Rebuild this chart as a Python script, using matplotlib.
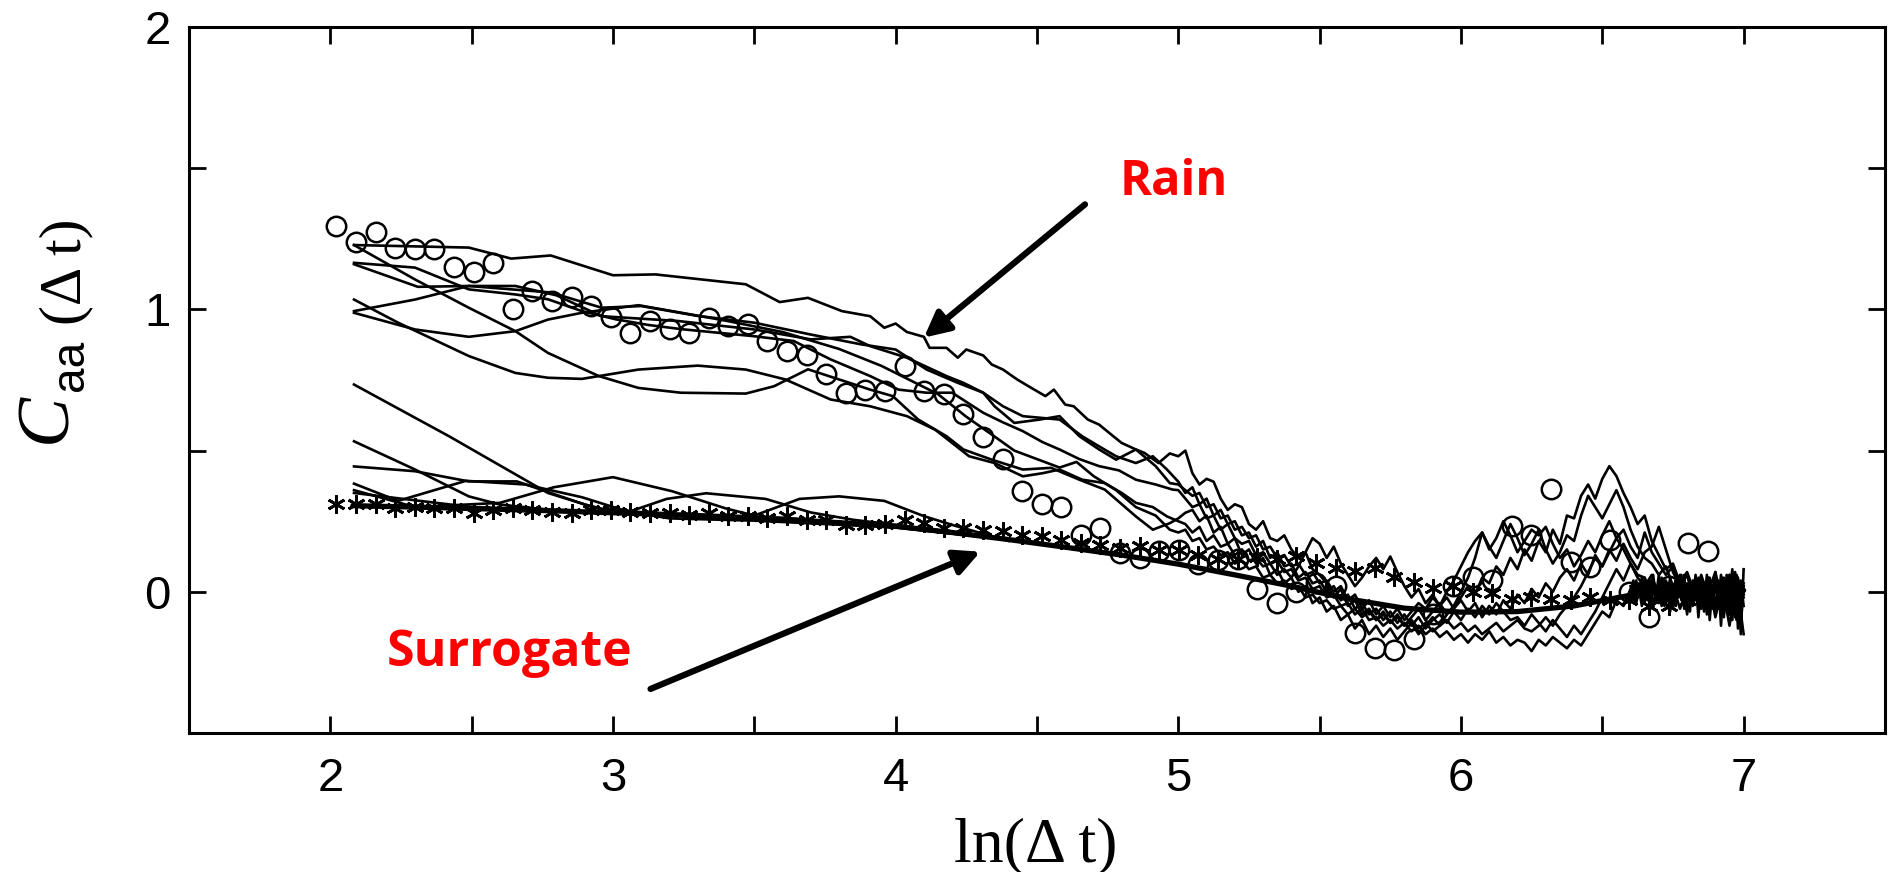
import numpy as np
import matplotlib
matplotlib.use("Agg")
import matplotlib.pyplot as plt

# ---- averaged rain curve (circles) and surrogate curve (stars), same lag grid
lag_x = 2.022 + 0.0693 * np.arange(71)
rain_avg = [1.295, 1.240, 1.275, 1.216, 1.213, 1.213, 1.151, 1.132, 1.165, 1.002,
            1.065, 1.029, 1.045, 1.012, 0.974, 0.917, 0.960, 0.930, 0.917, 0.970,
            0.943, 0.947, 0.888, 0.852, 0.837, 0.773, 0.705, 0.716, 0.710, 0.801,
            0.710, 0.702, 0.631, 0.548, 0.470, 0.356, 0.312, 0.301, 0.202, 0.226,
            0.137, 0.119, 0.143, 0.149, 0.100, 0.113, 0.116, 0.010, -0.038, 0.001,
            0.030, 0.020, -0.146, -0.200, -0.206, -0.168, -0.080, 0.019, 0.054, 0.043,
            0.232, 0.202, 0.364, 0.107, 0.089, 0.184, 0.000, -0.088, 0.020, 0.173,
            0.146]
surr_avg = [0.312, 0.312, 0.312, 0.296, 0.300, 0.296, 0.296, 0.280, 0.290, 0.296,
            0.288, 0.284, 0.280, 0.290, 0.288, 0.284, 0.278, 0.278, 0.273, 0.279,
            0.267, 0.267, 0.261, 0.267, 0.255, 0.255, 0.238, 0.238, 0.241, 0.255,
            0.243, 0.226, 0.226, 0.220, 0.214, 0.202, 0.196, 0.184, 0.173, 0.167,
            0.155, 0.161, 0.149, 0.149, 0.131, 0.116, 0.116, 0.124, 0.116, 0.128,
            0.102, 0.084, 0.072, 0.084, 0.054, 0.033, 0.013, 0.019, -0.002, -0.005,
            -0.026, -0.017, -0.026, -0.028, -0.017, -0.028, -0.028, -0.052, -0.052, -0.028,
            -0.010]

# ---- single rain events: first part (ln dt < 5) on their own x values
r1_x = [2.084, 2.49, 2.64, 2.78, 3.0, 3.15, 3.47, 3.59, 3.69, 3.81, 3.91, 3.96, 4.0,
        4.04, 4.1, 4.12, 4.18, 4.22, 4.25, 4.31, 4.34, 4.38, 4.43, 4.47, 4.53, 4.56,
        4.6, 4.63, 4.68, 4.72, 4.77, 4.8, 4.85, 4.88, 4.93, 4.97]
r1_y = [1.228, 1.219, 1.18, 1.191, 1.121, 1.124, 1.089, 1.026, 1.041, 0.994, 0.976,
        0.935, 0.95, 0.92, 0.903, 0.864, 0.864, 0.829, 0.858, 0.837, 0.805, 0.787,
        0.752, 0.728, 0.693, 0.716, 0.663, 0.657, 0.61, 0.592, 0.551, 0.527, 0.504,
        0.492, 0.456, 0.49]
r2_x = [2.084, 2.30, 2.49, 2.655, 2.77, 2.95, 3.09, 3.24, 3.47, 3.57, 3.69, 3.80, 3.91,
        3.99, 4.08, 4.18, 4.24, 4.34, 4.45, 4.55, 4.65, 4.74, 4.85, 4.91, 4.97]
r2_y = [1.228, 1.106, 1.006, 0.923, 0.846, 0.764, 0.722, 0.705, 0.702, 0.728, 0.788,
        0.752, 0.716, 0.693, 0.61, 0.551, 0.504, 0.468, 0.433, 0.439, 0.397, 0.362,
        0.267, 0.220, 0.243]
r3_x = [2.084, 2.24, 2.49, 2.655, 2.77, 2.89, 3.09, 3.30, 3.47, 3.61, 3.77, 3.91, 4.04,
        4.14, 4.26, 4.35, 4.45, 4.52, 4.58, 4.66, 4.74, 4.80, 4.85, 4.91, 4.96]
r3_y = [1.035, 0.953, 0.835, 0.775, 0.758, 0.754, 0.787, 0.801, 0.787, 0.752, 0.681,
        0.657, 0.622, 0.574, 0.48, 0.456, 0.409, 0.42, 0.433, 0.397, 0.385, 0.35, 0.315,
        0.30, 0.267]
r4_x = [2.084, 2.30, 2.49, 2.655, 2.77, 2.89, 3.01, 3.125, 3.243, 3.50, 3.64, 3.77,
        3.91, 4.01, 4.11, 4.20, 4.31, 4.38, 4.45, 4.52, 4.58, 4.65, 4.72, 4.79, 4.85,
        4.92, 4.98]
r4_y = [1.165, 1.148, 1.071, 1.053, 1.036, 0.994, 0.965, 0.945, 0.93, 0.905, 0.888,
        0.823, 0.764, 0.716, 0.705, 0.705, 0.634, 0.60, 0.569, 0.53, 0.504, 0.47, 0.445,
        0.43, 0.397, 0.38, 0.362]
r5_x = [2.084, 2.31, 2.49, 2.78, 2.96, 3.10, 3.30, 3.50, 3.70, 3.88, 4.00, 4.11, 4.22,
        4.31, 4.38, 4.45, 4.58, 4.66, 4.72, 4.78, 4.85, 4.91, 4.96]
r5_y = [1.16, 1.08, 1.083, 1.06, 1.006, 1.012, 0.977, 0.953, 0.911, 0.876, 0.858, 0.787,
        0.74, 0.705, 0.657, 0.622, 0.61, 0.551, 0.515, 0.48, 0.456, 0.48, 0.433]
r6_x = [2.084, 2.30, 2.49, 2.655, 2.80, 2.96, 3.23, 3.50, 3.70, 3.84, 3.91, 4.04, 4.18,
        4.24, 4.31, 4.35, 4.42, 4.51, 4.58, 4.65, 4.72, 4.78, 4.85, 4.92, 4.97]
r6_y = [0.994, 1.035, 1.083, 1.083, 1.05, 0.976, 0.959, 0.929, 0.894, 0.903, 0.87,
        0.829, 0.764, 0.74, 0.705, 0.657, 0.598, 0.61, 0.622, 0.551, 0.504, 0.468, 0.504,
        0.445, 0.385]
r7_x = [2.084, 2.30, 2.49, 2.655, 2.77, 2.89, 3.09, 3.243, 3.40, 3.60, 3.80, 3.95, 4.05,
        4.15, 4.25, 4.35, 4.42, 4.50, 4.58, 4.64, 4.70, 4.78, 4.85, 4.92, 4.97]
r7_y = [0.988, 0.929, 0.903, 0.923, 0.964, 0.988, 1.015, 0.988, 0.96, 0.92, 0.86, 0.80,
        0.75, 0.70, 0.62, 0.55, 0.50, 0.47, 0.44, 0.46, 0.41, 0.36, 0.30, 0.27, 0.22]

# ---- noisy part of the same events, ln dt = 5.0 ... 7.0 in steps of 0.025
tail_x = np.round(np.arange(5.0, 7.0001, 0.025), 3)
r1_tail = [0.48, 0.50, 0.42, 0.38, 0.40, 0.39, 0.33, 0.29, 0.31, 0.30, 0.24, 0.22, 0.25,
           0.19, 0.18, 0.20, 0.15, 0.12, 0.14, 0.08, 0.06,
           0.03, -0.02, 0.01, -0.05, -0.03, -0.08, -0.06, -0.10, -0.07, -0.11,
           -0.08, -0.12, -0.09, -0.06, -0.10, -0.07, -0.04, -0.08, -0.05, -0.02,
           0.02, -0.01, 0.05, 0.03, 0.09, 0.06, 0.12, 0.08, 0.15, 0.11,
           0.18, 0.14, 0.22, 0.17, 0.27, 0.26, 0.34, 0.38, 0.33, 0.40,
           0.445, 0.41, 0.35, 0.30, 0.24, 0.27, 0.18, 0.13, 0.08, 0.10,
           0.03, 0.06, -0.02, 0.05, 0.00, 0.07, -0.04, 0.06, -0.03, 0.02]
r2_tail = [0.26, 0.28, 0.29, 0.25, 0.27, 0.21, 0.23, 0.17, 0.19, 0.13, 0.15, 0.10, 0.12,
           0.06, 0.08, 0.03, 0.05, 0.00, 0.02, -0.04, -0.02,
           -0.07, -0.05, -0.10, -0.08, -0.13, -0.10, -0.15, -0.12, -0.16, -0.13,
           -0.17, -0.14, -0.11, -0.15, -0.12, -0.09, -0.12, -0.08, -0.05, 0.00,
           0.05, 0.12, 0.21, 0.16, 0.12, 0.18, 0.24, 0.19, 0.13, 0.17,
           0.22, 0.15, 0.10, 0.14, 0.20, 0.18, 0.27, 0.34, 0.30, 0.26,
           0.31, 0.36, 0.30, 0.22, 0.16, 0.12, 0.10, 0.06, 0.09, 0.02,
           0.06, -0.03, 0.04, -0.06, 0.02, -0.04, 0.05, -0.08, 0.03, -0.01]
r3_tail = [0.25, 0.24, 0.21, 0.23, 0.18, 0.20, 0.16, 0.17, 0.13, 0.15, 0.11, 0.12, 0.09,
           0.10, 0.06, 0.08, 0.05, 0.09, 0.14, 0.19, 0.17,
           0.12, 0.16, 0.10, 0.06, 0.02, 0.05, 0.09, 0.12, 0.08, 0.125,
           0.07, 0.02, -0.02, 0.01, -0.04, -0.01, -0.05, -0.02, -0.06, -0.03,
           -0.07, -0.04, -0.09, -0.05, -0.08, -0.03, -0.06, -0.01, -0.04, 0.01,
           -0.02, 0.03, 0.00, 0.05, 0.08, 0.04, 0.10, 0.06, 0.13, 0.09,
           0.15, 0.11, 0.17, 0.12, 0.08, 0.14, 0.16, 0.23, 0.15, 0.07,
           0.02, 0.06, -0.03, 0.03, -0.07, 0.01, -0.05, 0.04, -0.10, 0.00]
r4_tail = [0.36, 0.33, 0.30, 0.31, 0.26, 0.27, 0.22, 0.24, 0.19, 0.17, 0.18, 0.13, 0.14,
           0.10, 0.11, 0.07, 0.08, 0.04, 0.05, 0.01, 0.02,
           -0.02, -0.01, -0.05, -0.04, -0.08, -0.06, -0.10, -0.09, -0.12, -0.10,
           -0.13, -0.11, -0.14, -0.12, -0.15, -0.13, -0.16, -0.14, -0.17, -0.15,
           -0.18, -0.15, -0.17, -0.14, -0.18, -0.16, -0.19, -0.17, -0.18, -0.21,
           -0.17, -0.19, -0.16, -0.18, -0.20, -0.17, -0.19, -0.15, -0.11, -0.07,
           -0.09, -0.03, -0.05, 0.01, -0.02, 0.03, 0.04, -0.03, 0.02, -0.05,
           0.01, -0.07, 0.03, -0.04, 0.05, -0.09, 0.02, -0.12, 0.04, -0.15]
r5_tail = [0.39, 0.35, 0.37, 0.31, 0.33, 0.27, 0.29, 0.24, 0.25, 0.20, 0.21, 0.16, 0.18,
           0.12, 0.14, 0.09, 0.10, 0.05, 0.07, 0.03, 0.04,
           0.00, 0.02, -0.03, -0.01, -0.06, -0.04, -0.08, -0.06, -0.10, -0.07,
           -0.11, -0.08, -0.12, -0.09, -0.13, -0.10, -0.08, -0.11, -0.07, -0.10,
           -0.06, -0.09, -0.05, -0.08, -0.04, -0.07, -0.10, -0.09, -0.12, -0.08,
           -0.11, -0.14, -0.10, -0.13, -0.16, -0.12, -0.15, -0.11, -0.07, -0.02,
           0.03, 0.08, 0.04, 0.10, 0.06, 0.05, -0.01, 0.03, -0.04, 0.02,
           -0.06, 0.01, -0.03, 0.06, -0.02, 0.04, -0.07, 0.03, -0.05, 0.01]
r6_tail = [0.38, 0.36, 0.34, 0.35, 0.30, 0.31, 0.26, 0.27, 0.22, 0.23, 0.19, 0.20, 0.15,
           0.16, 0.12, 0.13, 0.09, 0.10, 0.06, 0.07, 0.03,
           0.04, 0.00, 0.02, -0.03, -0.01, -0.06, -0.03, -0.08, -0.05, -0.09,
           -0.06, -0.10, -0.07, -0.04, -0.06, -0.02, -0.05, 0.00, 0.04, 0.09,
           0.14, 0.18, 0.21, 0.15, 0.19, 0.25, 0.20, 0.14, 0.18, 0.22,
           0.20, 0.23, 0.17, 0.12, 0.15, 0.09, 0.13, 0.18, 0.14, 0.20,
           0.25, 0.19, 0.22, 0.16, 0.12, 0.21, 0.14, 0.10, 0.06, 0.09,
           0.03, 0.07, 0.00, 0.05, -0.03, 0.04, -0.02, 0.06, -0.04, 0.03]
r7_tail = [0.21, 0.22, 0.18, 0.19, 0.15, 0.16, 0.13, 0.14, 0.10, 0.11, 0.08, 0.09, 0.05,
           0.06, 0.03, 0.04, 0.01, 0.02, -0.02, -0.01, -0.04,
           -0.03, -0.06, -0.05, -0.08, -0.06, -0.09, -0.07, -0.10, -0.08, -0.11,
           -0.09, -0.12, -0.10, -0.13, -0.11, -0.14, -0.12, -0.10, -0.13, -0.11,
           -0.14, -0.12, -0.15, -0.13, -0.11, -0.14, -0.12, -0.10, -0.13, -0.14,
           -0.12, -0.09, -0.12, -0.08, -0.05, -0.02, 0.02, 0.07, 0.12, 0.09,
           0.14, 0.19, 0.15, 0.10, 0.05, 0.02, 0.06, -0.02, 0.04, -0.04,
           0.02, -0.06, 0.01, -0.03, 0.05, -0.05, 0.03, -0.08, 0.06, -0.02]

# ---- surrogate realisations at the largest lags, ln dt = 6.60 ... 7.00 step 0.01
end_x = np.round(np.arange(6.60, 7.0001, 0.01), 2)
s1_end = [0.02, -0.03, 0.04, -0.01, 0.05, -0.04, 0.03, -0.02, 0.06, -0.03, 0.02,
          -0.05, 0.04, -0.02, 0.05, -0.06, 0.03, -0.01, 0.06, -0.04, 0.02, -0.07,
          0.04, -0.03, 0.05, -0.05, 0.02, -0.08, 0.05, -0.02, 0.07, -0.06, 0.03,
          -0.09, 0.06, -0.03, 0.08, -0.07, 0.04, -0.11, 0.02]
s2_end = [-0.02, 0.03, -0.04, 0.01, -0.05, 0.02, -0.03, 0.04, -0.06, 0.01, -0.04,
          0.05, -0.02, 0.03, -0.07, 0.02, -0.05, 0.04, -0.03, 0.06, -0.08, 0.01,
          -0.04, 0.05, -0.09, 0.03, -0.05, 0.06, -0.10, 0.02, -0.06, 0.04, -0.12,
          0.05, -0.07, 0.03, -0.10, 0.07, -0.13, 0.04, -0.05]
s3_end = [0.00, 0.04, -0.01, 0.03, -0.03, 0.05, 0.00, -0.04, 0.04, -0.02, 0.06,
          -0.01, -0.05, 0.03, 0.00, -0.04, 0.05, -0.02, 0.02, -0.06, 0.03, 0.00,
          -0.05, 0.06, -0.03, 0.01, -0.07, 0.04, -0.01, -0.06, 0.05, -0.04, 0.06,
          -0.08, 0.02, -0.05, 0.07, -0.09, 0.05, -0.15, 0.08]

# ---- weakly correlated events that fall onto the surrogate band
low1_x = [2.084, 2.42, 2.77, 2.96, 3.24, 3.6, 4.0, 4.35]
low1_y = [0.734, 0.551, 0.35, 0.291, 0.273, 0.262, 0.232, 0.19]
low2_x = [2.084, 2.30, 2.49, 2.60, 2.78, 3.1, 3.6, 4.0, 4.35]
low2_y = [0.533, 0.433, 0.338, 0.309, 0.29, 0.275, 0.255, 0.23, 0.19]
low3_x = [2.084, 2.30, 2.49, 2.66, 2.78, 2.90, 3.0, 3.3, 3.6, 4.0, 4.35]
low3_y = [0.444, 0.427, 0.391, 0.391, 0.35, 0.309, 0.285, 0.265, 0.255, 0.228, 0.19]
low4_x = [2.084, 2.24, 2.48, 2.69, 2.89, 3.05, 3.2, 3.5, 4.0, 4.35]
low4_y = [0.383, 0.322, 0.393, 0.38, 0.335, 0.285, 0.26, 0.252, 0.228, 0.19]
low5_x = [2.084, 2.3, 2.6, 2.79, 3.0, 3.21, 3.40, 3.5, 3.66, 3.80, 3.96, 4.10, 4.21, 4.4]
low5_y = [0.36, 0.30, 0.315, 0.37, 0.406, 0.356, 0.295, 0.27, 0.329, 0.338, 0.322,
          0.268, 0.234, 0.18]
low6_x = [2.084, 2.5, 2.8, 3.05, 3.19, 3.33, 3.54, 3.70, 3.85, 4.1, 4.35]
low6_y = [0.35, 0.30, 0.285, 0.281, 0.329, 0.349, 0.329, 0.281, 0.255, 0.225, 0.19]

# ---- surrogate band
surr_x = [2.08, 2.3, 2.5, 2.75, 3.0, 3.25, 3.5, 3.75, 4.0, 4.2, 4.4, 4.6, 4.8, 5.0,
          5.2, 5.4, 5.6, 5.8, 6.0, 6.2, 6.4, 6.6, 6.8, 7.0]
surr_y = [0.305, 0.30, 0.295, 0.288, 0.28, 0.272, 0.262, 0.248, 0.232, 0.21, 0.185,
          0.158, 0.13, 0.098, 0.06, 0.02, -0.025, -0.058, -0.072, -0.07, -0.05, -0.012,
          0.005, 0.005]

fig = plt.figure(figsize=(18.95, 8.72), dpi=100)
ax = fig.add_axes([0.0997, 0.1594, 0.895, 0.8096])

LW = 1.9
rain_events = [(r1_x, r1_y, r1_tail), (r2_x, r2_y, r2_tail), (r3_x, r3_y, r3_tail),
               (r4_x, r4_y, r4_tail), (r5_x, r5_y, r5_tail), (r6_x, r6_y, r6_tail),
               (r7_x, r7_y, r7_tail)]
for hx, hy, ty in rain_events:
    ax.plot(np.r_[hx, tail_x], np.r_[hy, ty], color="black", lw=LW, zorder=2)

for ey in (s1_end, s2_end, s3_end):
    ax.plot(end_x, ey, color="black", lw=LW, zorder=2)

for lx, ly in [(low1_x, low1_y), (low2_x, low2_y), (low3_x, low3_y),
               (low4_x, low4_y), (low5_x, low5_y), (low6_x, low6_y)]:
    ax.plot(lx, ly, color="black", lw=LW, zorder=2)

ax.plot(surr_x, surr_y, color="black", lw=3.8, solid_capstyle="round", zorder=3)

ax.plot(lag_x, surr_avg, ls="none", marker=(6, 2, 0), ms=13, mew=2.0,
        color="black", zorder=4)
ax.plot(lag_x, rain_avg, ls="none", marker="o", ms=14, mew=1.8,
        mfc="none", mec="black", zorder=5)

ax.set_xlim(1.5, 7.5)
ax.set_ylim(-0.5, 2.0)
ax.set_xticks(np.arange(2.0, 7.01, 0.5))
ax.set_xticklabels(["2", "", "3", "", "4", "", "5", "", "6", "", "7"])
ax.set_yticks(np.arange(-0.5, 2.01, 0.5))
ax.set_yticklabels(["", "0", "", "1", "", "2"])
ax.tick_params(direction="in", length=12, width=2.0, top=True, right=True,
               labelsize=34)
ax.tick_params(axis="x", pad=17)
ax.tick_params(axis="y", pad=13)
for lab in ax.get_xticklabels() + ax.get_yticklabels():
    lab.set_family("Liberation Sans")
for sp in ax.spines.values():
    sp.set_linewidth(2.2)

# axis titles; the y title is built from three pieces: big C, lowered "aa", "(Δ t)"
fig.text(0.5467, 0.0126, "ln(Δ t)", family="Liberation Serif", fontsize=46,
         ha="center", va="baseline")
rot = dict(rotation=90, rotation_mode="anchor", ha="left", va="baseline")
ylab_c = fig.text(0.0343, 0.492, "C", family="Liberation Serif", style="italic",
                  fontsize=54, **rot)
fig.canvas.draw()
y_next = ylab_c.get_window_extent().y1 / fig.bbox.height + 0.002
ylab_aa = fig.text(0.0438, y_next, "aa", family="Liberation Sans", fontsize=33, **rot)
fig.canvas.draw()
y_next = ylab_aa.get_window_extent().y1 / fig.bbox.height + 0.017
fig.text(0.0422, y_next, "(Δ t)", family="Liberation Serif", fontsize=43, **rot)

arrow = dict(arrowstyle="-|>", color="black", lw=4.5, mutation_scale=38,
             shrinkA=0, shrinkB=0)
ax.annotate("", xy=(4.10, 0.90), xytext=(4.67, 1.372), arrowprops=arrow)
ax.annotate("", xy=(4.30, 0.142), xytext=(3.133, -0.344), arrowprops=arrow)
ax.text(4.985, 1.45, "Rain", color="red", fontsize=35, fontweight="bold",
        family="Open Sans", ha="center", va="center")
ax.text(2.635, -0.215, "Surrogate", color="red", fontsize=36, fontweight="bold",
        family="Open Sans", ha="center", va="center")

fig.savefig("out.png", dpi=100)
